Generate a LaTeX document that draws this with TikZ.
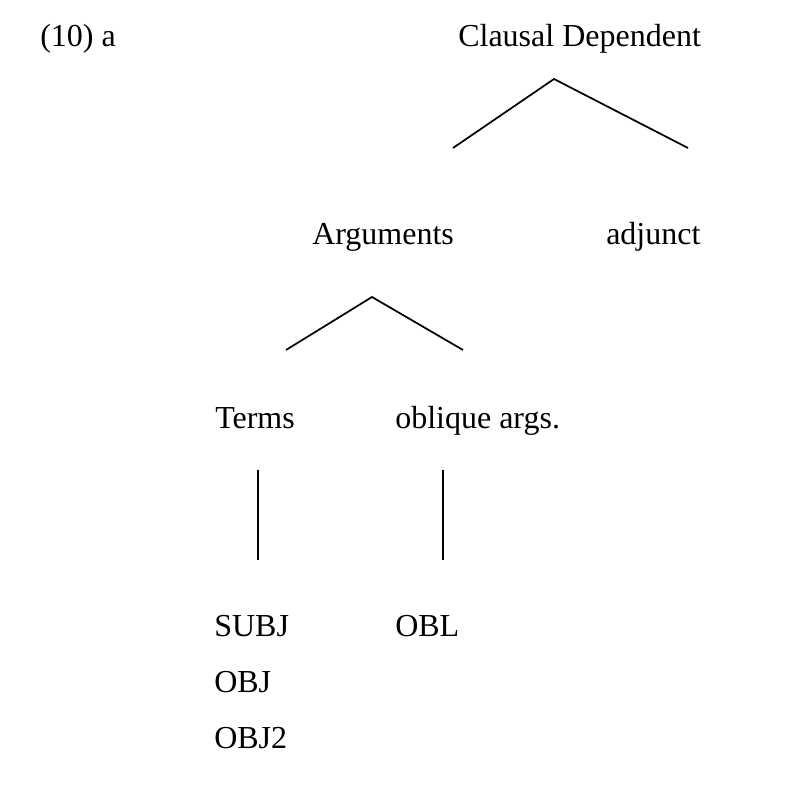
\documentclass[tikz,border=0pt]{standalone}
\usepackage{fontspec}
\setmainfont{Liberation Serif}
\begin{document}
\begin{tikzpicture}[x=0.75pt,y=-0.75pt,
  lbl/.style={anchor=base west,inner sep=0pt,font=\fontsize{24}{28}\selectfont},
  branch/.style={line width=1.3pt,line cap=butt,line join=miter}]
\useasboundingbox (0,0) rectangle (793,798);
% labels
\node[lbl] (ex) at (40,47) {(10) a};
\node[lbl] (cd) at (458,47) {Clausal Dependent};
\node[lbl] (arg) at (312,245) {Arguments};
\node[lbl] (adj) at (606,245) {adjunct};
\node[lbl] (terms) at (215,428) {Terms};
\node[lbl] (obl) at (395,428) {oblique args.};
\node[lbl] (subj) at (214,636) {SUBJ};
\node[lbl] (oblv) at (395,636) {OBL};
\node[lbl] (obj) at (214,692) {OBJ};
\node[lbl] (objtwo) at (214,748) {OBJ2};
% branch points
\coordinate (cdtop) at (554,79);
\coordinate (cdl) at (453,148);
\coordinate (cdr) at (688,148);
\coordinate (argtop) at (372,297);
\coordinate (argl) at (286,350);
\coordinate (argr) at (463,350);
\coordinate (tt) at (258,470);
\coordinate (tb) at (258,560);
\coordinate (ot) at (443,470);
\coordinate (ob) at (443,560);
\draw[branch] (cdl) -- (cdtop) -- (cdr);
\draw[branch] (argl) -- (argtop) -- (argr);
\draw[branch] (tt) -- (tb);
\draw[branch] (ot) -- (ob);
\end{tikzpicture}
\end{document}
